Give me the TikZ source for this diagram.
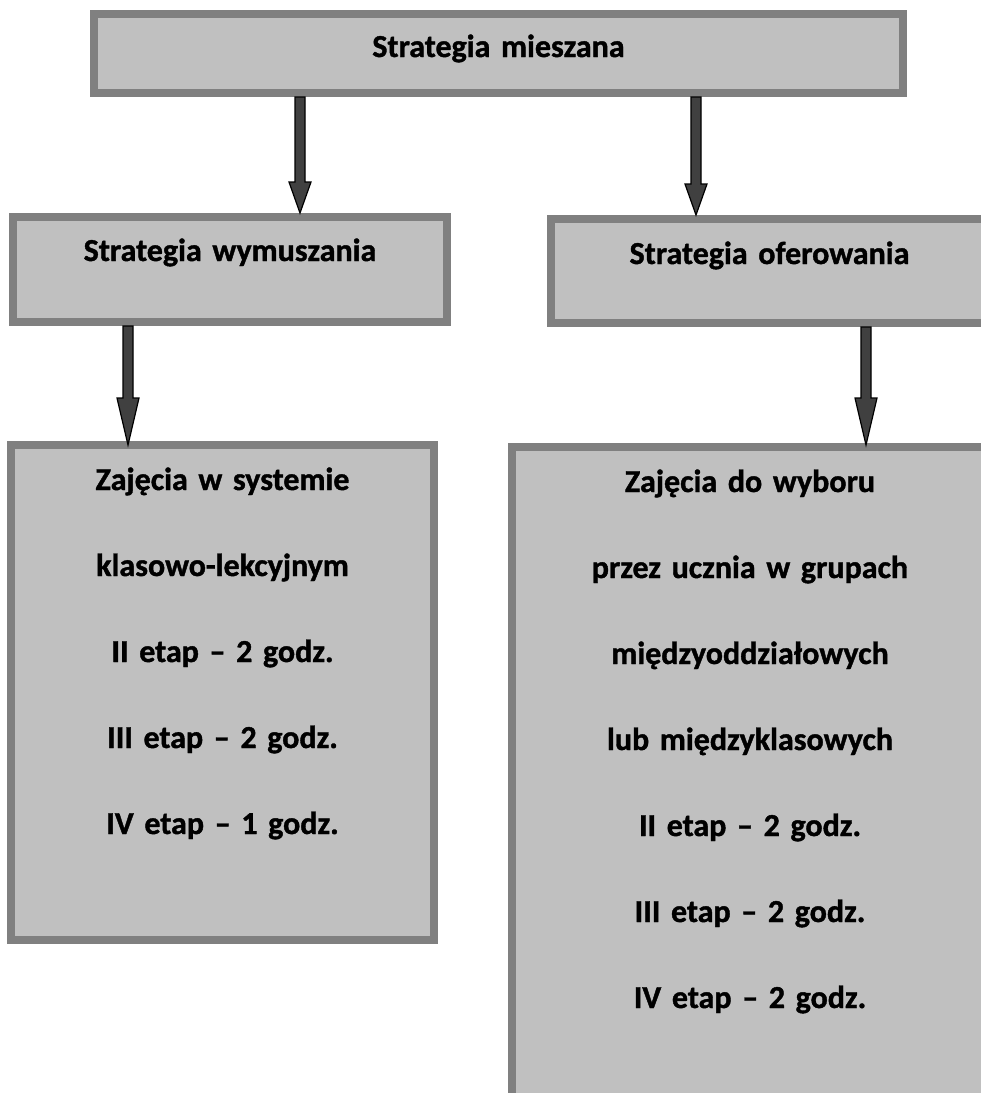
\documentclass[tikz,border=0pt]{standalone}
\usepackage{fontspec}
\setmainfont[WordSpace=0.7,BoldFeatures={FakeBold=1.2}]{Carlito}
\usepackage{tikz}
\usetikzlibrary{calc}
\definecolor{ramka}{HTML}{808080}
\definecolor{tlo}{HTML}{C0C0C0}
\definecolor{strzalka}{HTML}{404040}

% strzalka blokowa: poczatek, koniec, dlugosc grotu
\newcommand{\blokstrzalka}[3]{%
  \draw[fill=strzalka, line width=1.2pt] let \p1=(#1), \p2=(#2) in
    (\x1-5pt,\y1) -- (\x1-5pt,\y2+#3) -- (\x1-11pt,\y2+#3) -- (\x1,\y2)
    -- (\x1+11pt,\y2+#3) -- (\x1+5pt,\y2+#3) -- (\x1+5pt,\y1) -- cycle;}

\begin{document}
\begin{tikzpicture}[x=1pt,y=-1pt,
    ramkabox/.style={draw=ramka, fill=tlo, line width=8pt, outer sep=4pt,
      inner sep=0pt, anchor=north west, align=center,
      font=\fontsize{32}{86}\selectfont\bfseries}]
                \useasboundingbox (0,0) rectangle (981,1093);
                \node[ramkabox, text width=809pt, text height=43pt, text depth=36pt] (mieszana) at (90,10) {Strategia mieszana};
                \node[ramkabox, text width=434pt, text height=44pt, text depth=61pt] (wymuszanie) at (9,213) {Strategia wymuszania};
                \node[ramkabox, text width=437pt, text height=45pt, text depth=59pt] (oferowanie) at (547,215) {Strategia oferowania};
                \node[ramkabox, text width=423pt, text height=45pt, text depth=450pt] (klasowe) at (7,441)
                  {Zajęcia w systemie\\ klasowo-lekcyjnym\\ II etap -- 2 godz.\\ III etap -- 2 godz.\\ IV etap -- 1 godz.};
                \node[ramkabox, text width=476pt, text height=45pt, text depth=607pt] (wybor) at (508,443)
                  {Zajęcia do wyboru\\ przez ucznia w grupach\\ międzyoddziałowych\\ lub międzyklasowych\\ II etap -- 2 godz.\\ III etap -- 2 godz.\\ IV etap -- 2 godz.};
                \coordinate (s1) at (300,0);
                \coordinate (s2) at (696,0);
                \coordinate (s3) at (128,0);
                \coordinate (s4) at (866,0);
                \blokstrzalka{s1 |- mieszana.south}{s1 |- wymuszanie.north}{31pt}
                \blokstrzalka{s2 |- mieszana.south}{s2 |- oferowanie.north}{31pt}
                \blokstrzalka{s3 |- wymuszanie.south}{$(s3 |- klasowe.north)+(0,4)$}{47pt}
                \blokstrzalka{s4 |- oferowanie.south}{$(s4 |- wybor.north)+(0,2)$}{47pt}
            \end{tikzpicture}
\end{document}
